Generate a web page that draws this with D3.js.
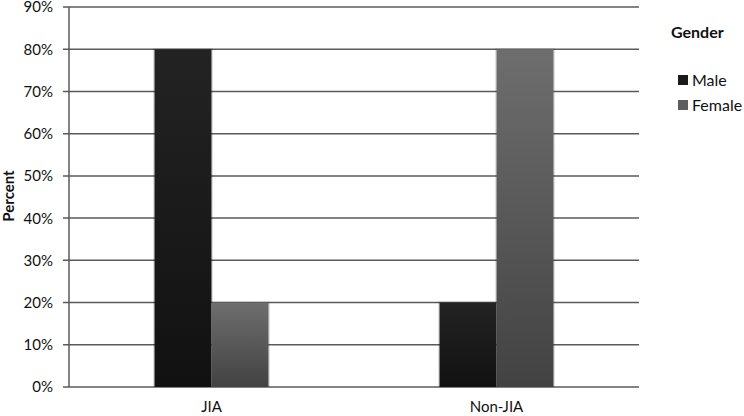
<!DOCTYPE html>
<html><head><meta charset="utf-8">
<script src="https://cdn.jsdelivr.net/npm/d3@7"></script>
<style>body{margin:0;background:#fff}svg{display:block}text{font-family:Lato,"Open Sans",sans-serif}</style>
</head><body>
<svg id="c" width="744" height="416"></svg>
<script>
const categories = ["JIA", "Non-JIA"];
const seriesNames = ["Male", "Female"];
const maleValues = [80, 20];
const femaleValues = [20, 80];
const yTicks = [0, 10, 20, 30, 40, 50, 60, 70, 80, 90];

const svg = d3.select("#c");
const m = {l: 69, r: 639, t: 7, b: 387};
const x = d3.scaleBand().domain(categories).range([m.l, m.r]);
const xs = d3.scaleBand().domain(seriesNames).range([0, x.bandwidth()]).paddingInner(0).paddingOuter(1.5);
const y = d3.scaleLinear().domain([0, 90]).range([m.b, m.t]);

const defs = svg.append("defs");
const grads = {Male: ["#232323", "#111111"], Female: ["#6e6e6e", "#424242"]};
Object.entries(grads).forEach(([k, c]) => {
  const g = defs.append("linearGradient").attr("id", "g" + k).attr("x1", 0).attr("y1", 0).attr("x2", 0).attr("y2", 1);
  g.append("stop").attr("offset", "0%").attr("stop-color", c[0]);
  g.append("stop").attr("offset", "100%").attr("stop-color", c[1]);
});

// grid lines
svg.append("g").selectAll("line").data(yTicks).join("line")
  .attr("x1", m.l - 6).attr("x2", m.r).attr("y1", d => y(d)).attr("y2", d => y(d))
  .attr("stroke", "#5a5a5a").attr("stroke-width", 1.5);

// y axis line
svg.append("line").attr("x1", m.l).attr("x2", m.l).attr("y1", m.t).attr("y2", m.b)
  .attr("stroke", "#5a5a5a").attr("stroke-width", 1.5);

// y tick labels
svg.append("g").selectAll("text").data(yTicks).join("text")
  .attr("x", 53).attr("y", d => y(d)).attr("dy", "0.36em").attr("text-anchor", "end")
  .attr("font-size", 15).attr("fill", "#111").text(d => d + "%");

// bars
const rows = categories.map((c, i) => ({cat: c, vals: [{s: "Male", v: maleValues[i]}, {s: "Female", v: femaleValues[i]}]}));
const grp = svg.append("g").selectAll("g").data(rows).join("g")
  .attr("transform", d => `translate(${x(d.cat)},0)`);
grp.selectAll("rect.sh").data(d => d.vals).join("rect").attr("class", "sh")
  .attr("x", d => xs(d.s) - 1.5).attr("width", xs.bandwidth() + 3)
  .attr("y", d => y(d.v) - 1).attr("height", d => y(0) - y(d.v) + 1)
  .attr("fill", "#000").attr("opacity", 0.12);
grp.selectAll("rect.b").data(d => d.vals).join("rect").attr("class", "b")
  .attr("x", d => xs(d.s)).attr("width", xs.bandwidth())
  .attr("y", d => y(d.v)).attr("height", d => y(0) - y(d.v))
  .attr("fill", d => `url(#g${d.s})`);

// x labels
svg.append("g").selectAll("text").data(categories).join("text")
  .attr("x", d => x(d) + x.bandwidth() / 2).attr("y", 412).attr("text-anchor", "middle")
  .attr("font-size", 15).attr("fill", "#111").text(d => d);

// y title
svg.append("text").attr("transform", "translate(14,196) rotate(-90)")
  .attr("text-anchor", "middle").attr("font-size", 15).attr("font-weight", "bold").attr("fill", "#111").text("Percent");

// legend
svg.append("text").attr("x", 671).attr("y", 38).attr("font-size", 16).attr("font-weight", "bold").attr("fill", "#111").text("Gender");
const lg = svg.append("g").selectAll("g").data(seriesNames).join("g")
  .attr("transform", (d, i) => `translate(678,${80 + i * 25})`);
lg.append("rect").attr("x", 0).attr("y", -5).attr("width", 10).attr("height", 10)
  .attr("fill", d => d === "Male" ? "#1a1a1a" : "#5e5e5e");
lg.append("text").attr("x", 14).attr("y", 0).attr("dy", "0.36em").attr("font-size", 16).attr("fill", "#111").text(d => d);
</script>
</body></html>
